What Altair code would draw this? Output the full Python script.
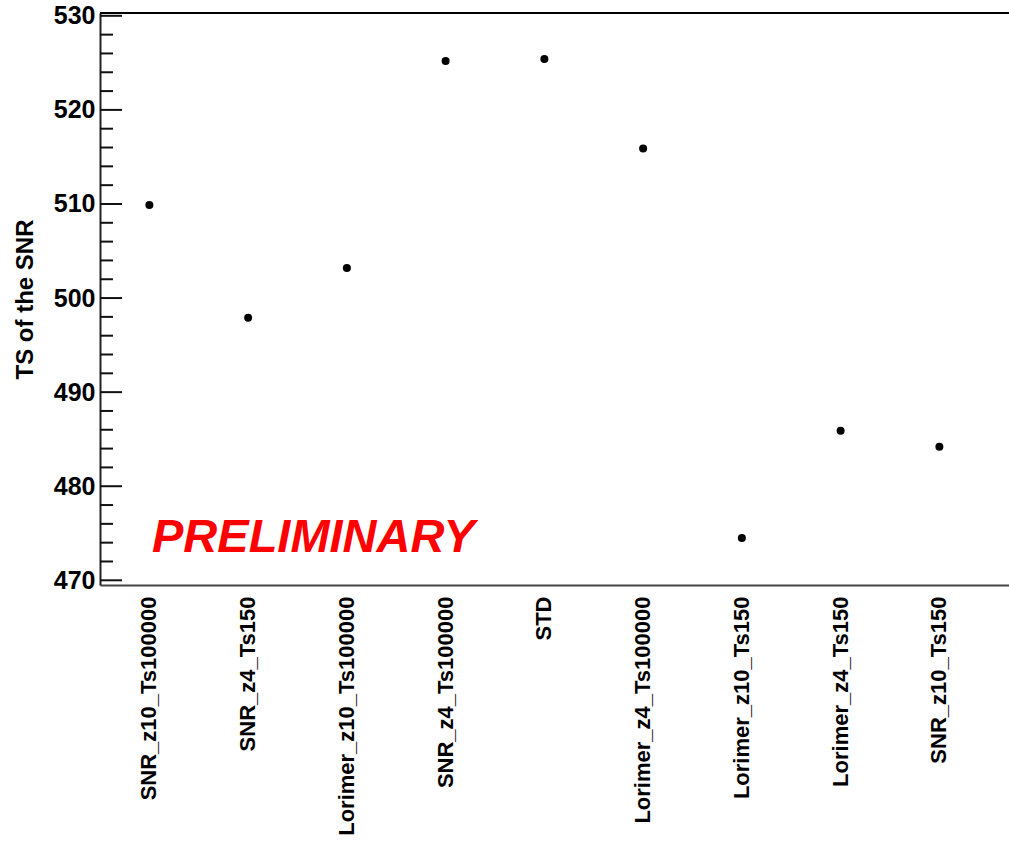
import altair as alt
import pandas as pd

# Model variants and the TS obtained for the SNR with each of them
categories = [
    "SNR_z10_Ts100000",
    "SNR_z4_Ts150",
    "Lorimer_z10_Ts100000",
    "SNR_z4_Ts100000",
    "STD",
    "Lorimer_z4_Ts100000",
    "Lorimer_z10_Ts150",
    "Lorimer_z4_Ts150",
    "SNR_z10_Ts150",
]
ts_values = [509.9, 497.9, 503.2, 525.2, 525.4, 515.9, 474.5, 485.9, 484.2]

major_ticks = [470, 480, 490, 500, 510, 520, 530]
minor_ticks = [v for v in range(470, 531, 2) if v % 10 != 0]

W, H = 909, 572
FONT = "Liberation Sans"
Y_DOMAIN = [469.5, 530.3]

df = pd.DataFrame({"model": categories, "ts": ts_values})
ymaj = pd.DataFrame({"v": major_ticks})
ymin = pd.DataFrame({"v": minor_ticks})

yscale = alt.Scale(domain=Y_DOMAIN, nice=False, zero=False)

points = alt.Chart(df).mark_point(
    filled=True, shape="circle", size=64, color="black", opacity=1
).encode(
    x=alt.X(
        "model:N",
        sort=None,
        scale=alt.Scale(type="band", paddingInner=0, paddingOuter=0.1025, align=0),
        axis=alt.Axis(
            title=None,
            labelAngle=-90,
            labelAlign="right",
            labelBaseline="middle",
            labelFont=FONT,
            labelFontWeight="bold",
            labelFontSize=22,
            labelColor="black",
            labelPadding=11,
            ticks=False,
            domain=True,
            domainColor="#444444",
            domainWidth=2,
            labelLimit=400,
        ),
    ),
    y=alt.Y(
        "ts:Q",
        scale=yscale,
        axis=alt.Axis(
            title="TS of the SNR",
            titleFont=FONT,
            titleFontWeight="bold",
            titleFontSize=24,
            titleColor="black",
            titleAngle=-90,
            titleX=-75,
            titleY=H / 2,
            titleAlign="center",
            titleBaseline="middle",
            values=major_ticks,
            labelFont=FONT,
            labelFontWeight="bold",
            labelFontSize=25,
            labelColor="black",
            labelPadding=5,
            ticks=False,
            grid=False,
            domain=True,
            domainColor="#222222",
            domainWidth=2,
        ),
    ),
)

# ticks drawn on the inner side of the y axis
major_rules = alt.Chart(ymaj).mark_rule(color="#111111", strokeWidth=2).encode(
    y=alt.Y("v:Q", scale=yscale), x=alt.value(0), x2=alt.value(22)
)
minor_rules = alt.Chart(ymin).mark_rule(color="#111111", strokeWidth=2).encode(
    y=alt.Y("v:Q", scale=yscale), x=alt.value(0), x2=alt.value(13)
)

# top edge of the frame
top_line = alt.Chart(df).mark_rule(color="black", strokeWidth=2).encode(
    y=alt.value(0), x=alt.value(0), x2=alt.value(W)
)

label = alt.Chart(pd.DataFrame({"t": ["PRELIMINARY"]})).mark_text(
    font=FONT,
    fontSize=47,
    fontWeight="bold",
    fontStyle="italic",
    color="#ff0000",
    align="left",
    baseline="alphabetic",
).encode(text="t:N", x=alt.value(52), y=alt.value(539))

chart = alt.layer(minor_rules, major_rules, top_line, points, label).resolve_scale(
    y="shared"
).properties(
    width=W,
    height=H,
    autosize=alt.AutoSizeParams(type="none"),
    padding={"left": 100, "top": 13, "right": 0, "bottom": 257},
    background="white",
).configure_view(stroke=None)

chart.save("out.html", embed_options={"renderer": "svg", "actions": False})
